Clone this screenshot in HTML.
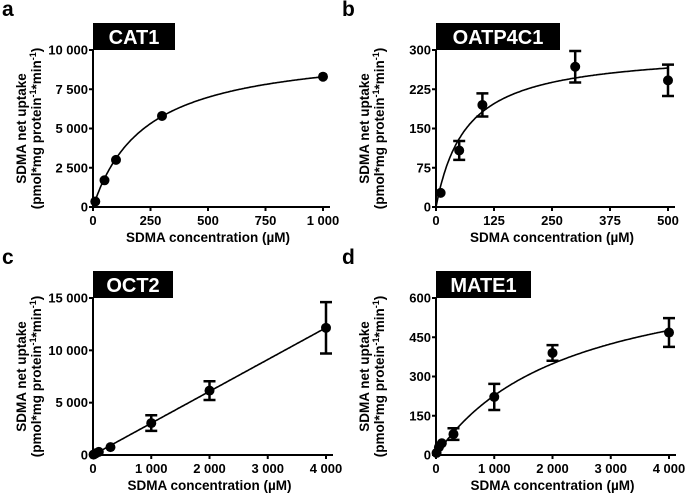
<!DOCTYPE html>
<html><head><meta charset="utf-8"><style>
body{margin:0;background:#fff;}
svg{display:block;font-family:"Liberation Sans",Arial,sans-serif;font-weight:bold;}
</style></head><body>
<svg id="chart" width="685" height="493" viewBox="0 0 685 493" xmlns="http://www.w3.org/2000/svg"></svg>
<script>
// Panel a: CAT1
const aX=[10,50,100,300,1000];
const aY=[350,1700,3000,5800,8300];
const aErr=[0,0,0,0,0];
const aXTicks=[0,250,500,750,1000];
const aYTicks=[0,2500,5000,7500,10000];
// Panel b: OATP4C1
const bX=[10,50,100,300,500];
const bY=[27,108,195,268,242];
const bErr=[0,18,22,30,30];
const bXTicks=[0,125,250,375,500];
const bYTicks=[0,75,150,225,300];
// Panel c: OCT2
const cX=[10,50,100,300,1000,2000,4000];
const cY=[40,170,300,750,3050,6150,12150];
const cErr=[0,0,0,0,750,900,2450];
const cXTicks=[0,1000,2000,3000,4000];
const cYTicks=[0,5000,10000,15000];
// Panel d: MATE1
const dX=[10,50,100,300,1000,2000,4000];
const dY=[8,30,45,80,222,390,468];
const dErr=[0,0,0,22,50,30,55];
const dXTicks=[0,1000,2000,3000,4000];
const dYTicks=[0,150,300,450,600];

const svg=document.getElementById('chart');
const NS='http://www.w3.org/2000/svg';
function el(tag,attrs,parent){const e=document.createElementNS(NS,tag);for(const k in attrs)e.setAttribute(k,attrs[k]);(parent||svg).appendChild(e);return e;}
function fmt(v){const s=String(v);return s.length>3?s.slice(0,s.length-3)+' '+s.slice(-3):s;}

function panel(o){
  const g=el('g',{});
  
  
  const sx=v=>o.x0+(v-o.xTicks[0])/(o.xTicks[o.xTicks.length-1]-o.xTicks[0])*(o.x1-o.x0);
  const sy=v=>o.y0-(v/o.yTicks[o.yTicks.length-1])*(o.y0-o.y1);
  const t=el('text',{x:o.lx,y:o.ly,'font-size':21},g);t.textContent=o.letter;
  
  
  const r=el('rect',{x:o.x0,y:o.y1-27,width:o.boxW,height:27,fill:'#000'},g);
  
  
  const tt=el('text',{x:o.x0+o.boxW/2,y:o.y1-6,'font-size':20,fill:'#fff','text-anchor':'middle'},g);tt.textContent=o.title;
  
  
  const ax=el('line',{x1:o.x0,y1:o.y0,x2:o.x1+7,y2:o.y0,stroke:'#000','stroke-width':2},g);
  
  
  const ay=el('line',{x1:o.x0,y1:o.y0,x2:o.x0,y2:o.y1,stroke:'#000','stroke-width':2},g);
  
  
  o.xTicks.forEach(v=>{
    el('line',{x1:sx(v),y1:o.y0,x2:sx(v),y2:o.y0+4,stroke:'#000','stroke-width':2},g);
    const l=el('text',{x:sx(v),y:o.y0+18,'font-size':13,'text-anchor':'middle'},g);l.textContent=fmt(v);
    
    
  });
  o.yTicks.forEach(v=>{
    el('line',{x1:o.x0-4,y1:sy(v),x2:o.x0,y2:sy(v),stroke:'#000','stroke-width':2},g);
    const l=el('text',{x:o.x0-5,y:sy(v)+4.5,'font-size':13,'text-anchor':'end'},g);l.textContent=fmt(v);
    
    
  });
  const xt=el('text',{x:(o.x0+o.x1)/2,y:o.y0+35,'font-size':13.5,'text-anchor':'middle'},g);xt.textContent='SDMA concentration (\u00b5M)';
  
  
  const cy=(o.y0+o.y1)/2;
  const y1=el('text',{x:0,y:0,'font-size':13.5,'text-anchor':'middle',transform:`translate(${o.x0-67},${cy}) rotate(-90)`},g);y1.textContent='SDMA net uptake';
  
  
  const y2=el('text',{x:0,y:0,'font-size':13.5,'text-anchor':'middle',transform:`translate(${o.x0-52},${cy}) rotate(-90)`},g);
  y2.innerHTML='(pmol*mg protein<tspan dy="-5" font-size="9">-1</tspan><tspan dy="5">*min</tspan><tspan dy="-5" font-size="9">-1</tspan><tspan dy="5">)</tspan>';
  
  
  let d='';const xmax=o.xTicks[o.xTicks.length-1];
  for(let i=0;i<=200;i++){const x=xmax*i/200;d+=(i?'L':'M')+sx(x).toFixed(1)+','+sy(o.fit(x)).toFixed(1);}
  const p=el('path',{d,fill:'none',stroke:'#000','stroke-width':1.6},g);
  
  
  o.xs.forEach((x,i)=>{
    const e=o.err[i];
    if(e>0){
      const X=sx(x),Y1=sy(o.ys[i]+e),Y2=sy(o.ys[i]-e);
      const eb=el('path',{d:`M${X},${Y1}L${X},${Y2}M${X-6},${Y1}L${X+6},${Y1}M${X-6},${Y2}L${X+6},${Y2}`,stroke:'#000','stroke-width':2.5,fill:'none'},g);
      
      
    }
    const c=el('circle',{cx:sx(x),cy:sy(o.ys[i]),r:5,fill:'#000'},g);
    
    
  });
}
panel({letter:'a',title:'CAT1',lx:2,ly:16,x0:93,x1:323,y0:207,y1:50,boxW:82,xTicks:aXTicks,yTicks:aYTicks,xs:aX,ys:aY,err:aErr,fit:x=>10200*x/(230+x)});
panel({letter:'b',title:'OATP4C1',lx:342,ly:16,x0:436,x1:668,y0:207,y1:50,boxW:124,xTicks:bXTicks,yTicks:bYTicks,xs:bX,ys:bY,err:bErr,fit:x=>300*x/(65+x)});
panel({letter:'c',title:'OCT2',lx:2,ly:264,x0:93,x1:326,y0:455,y1:298,boxW:80,xTicks:cXTicks,yTicks:cYTicks,xs:cX,ys:cY,err:cErr,fit:x=>3.04*x});
panel({letter:'d',title:'MATE1',lx:342,ly:264,x0:436,x1:669,y0:455,y1:298,boxW:95,xTicks:dXTicks,yTicks:dYTicks,xs:dX,ys:dY,err:dErr,fit:x=>750*x/(2300+x)});
</script>
</body></html>
